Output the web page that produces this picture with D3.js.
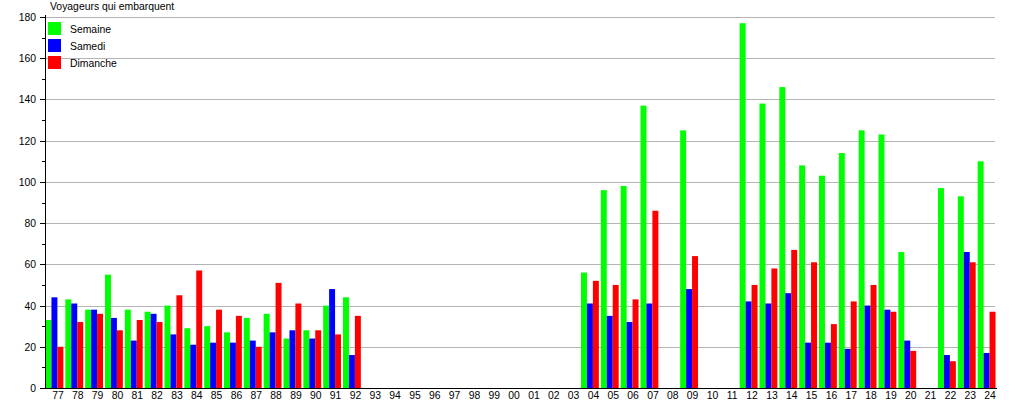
<!DOCTYPE html>
<html><head><meta charset="utf-8">
<script src="https://cdn.jsdelivr.net/npm/d3@7"></script>
<style>body{margin:0;background:#fff}svg{display:block}text{font-family:"Liberation Sans",Arial,sans-serif}</style>
</head><body><svg id="c" width="1015" height="400"></svg>
<script>
const categories = ["77","78","79","80","81","82","83","84","85","86","87","88","89","90","91","92","93","94","95","96","97","98","99","00","01","02","03","04","05","06","07","08","09","10","11","12","13","14","15","16","17","18","19","20","21","22","23","24"];
const semaine  = [33,43,38,55,38,37,40,29,30,27,34,36,24,28,40,44,null,null,null,null,null,null,null,null,null,null,null,56,96,98,137,null,125,null,null,177,138,146,108,103,114,125,123,66,null,97,93,110];
const samedi   = [44,41,38,34,23,36,26,21,22,22,23,27,28,24,48,16,null,null,null,null,null,null,null,null,null,null,null,41,35,32,41,null,48,null,null,42,41,46,22,22,19,40,38,23,null,16,66,17];
const dimanche = [20,32,36,28,33,32,45,57,38,35,20,51,41,28,26,35,null,null,null,null,null,null,null,null,null,null,null,52,50,43,86,null,64,null,null,50,58,67,61,31,42,50,37,18,null,13,61,37];
const seriesNames = ["Semaine","Samedi","Dimanche"];
const seriesColors = ["#00ff00","#0000ff","#ff0000"];
const yTicks = [0,20,40,60,80,100,120,140,160,180];
const title = "Voyageurs qui embarquent";

(function(){
const svg = d3.select("#c");
const pL = 45, pR = 997, pT = 17, pB = 388;
const fs = 10.4;
const x = d3.scaleBand().domain(categories).range([pL, pR]).padding(0);
const y = d3.scaleLinear().domain([0, 180]).range([pB, pT]);
const step = x.step();
const xs = d3.scaleBand().domain(seriesNames).range([0.5, 0.5 + step * 0.9]).padding(0);

// gridlines
svg.append("g").selectAll("line").data(yTicks.filter(d => d > 0)).join("line")
  .attr("x1", pL).attr("x2", 995).attr("y1", d => Math.round(y(d)) + 0.5).attr("y2", d => Math.round(y(d)) + 0.5)
  .attr("stroke", "#b4b4b4").attr("stroke-width", 1);

// bars
const data = [semaine, samedi, dimanche];
data.forEach((vals, si) => {
  svg.append("g").selectAll("rect").data(categories.map((c, i) => ({c, v: vals[i]})).filter(d => d.v != null)).join("rect")
    .attr("x", d => x(d.c) + xs(seriesNames[si]))
    .attr("width", xs.bandwidth())
    .attr("y", d => y(d.v))
    .attr("height", d => y(0) - y(d.v))
    .attr("fill", seriesColors[si]);
});

// y axis
const yAxis = svg.append("g");
yAxis.append("line").attr("x1", pL + 0.5).attr("x2", pL + 0.5).attr("y1", pT - 2).attr("y2", pB).attr("stroke", "#000");
const minor = d3.range(0, 181, 10);
yAxis.selectAll("line.t").data(minor).join("line").attr("class", "t")
  .attr("x1", d => d % 20 === 0 ? pL - 5 : pL - 3).attr("x2", pL)
  .attr("y1", d => Math.round(y(d)) + 0.5).attr("y2", d => Math.round(y(d)) + 0.5).attr("stroke", "#000");
yAxis.selectAll("text").data(yTicks).join("text")
  .attr("x", 36).attr("y", d => y(d) + 4).attr("text-anchor", "end").attr("font-size", fs).attr("fill", "#000")
  .text(d => d);

// x axis
svg.append("line").attr("x1", pL).attr("x2", pR).attr("y1", pB + 0.5).attr("y2", pB + 0.5).attr("stroke", "#000");
svg.append("g").selectAll("text").data(categories).join("text")
  .attr("x", d => x(d) + step / 2 + 3).attr("y", 399).attr("text-anchor", "middle").attr("font-size", fs).attr("fill", "#000")
  .text(d => d);

// title
svg.append("text").attr("x", 50).attr("y", 10).attr("font-size", fs).attr("fill", "#000").text(title);

// legend
const lg = svg.append("g").selectAll("g").data(seriesNames).join("g")
  .attr("transform", (d, i) => `translate(48,${22 + i * 17})`);
lg.append("rect").attr("width", 13).attr("height", 13).attr("fill", (d, i) => seriesColors[i]);
lg.append("text").attr("x", 22).attr("y", 11).attr("font-size", fs).attr("fill", "#000").text(d => d);
})();
</script></body></html>
